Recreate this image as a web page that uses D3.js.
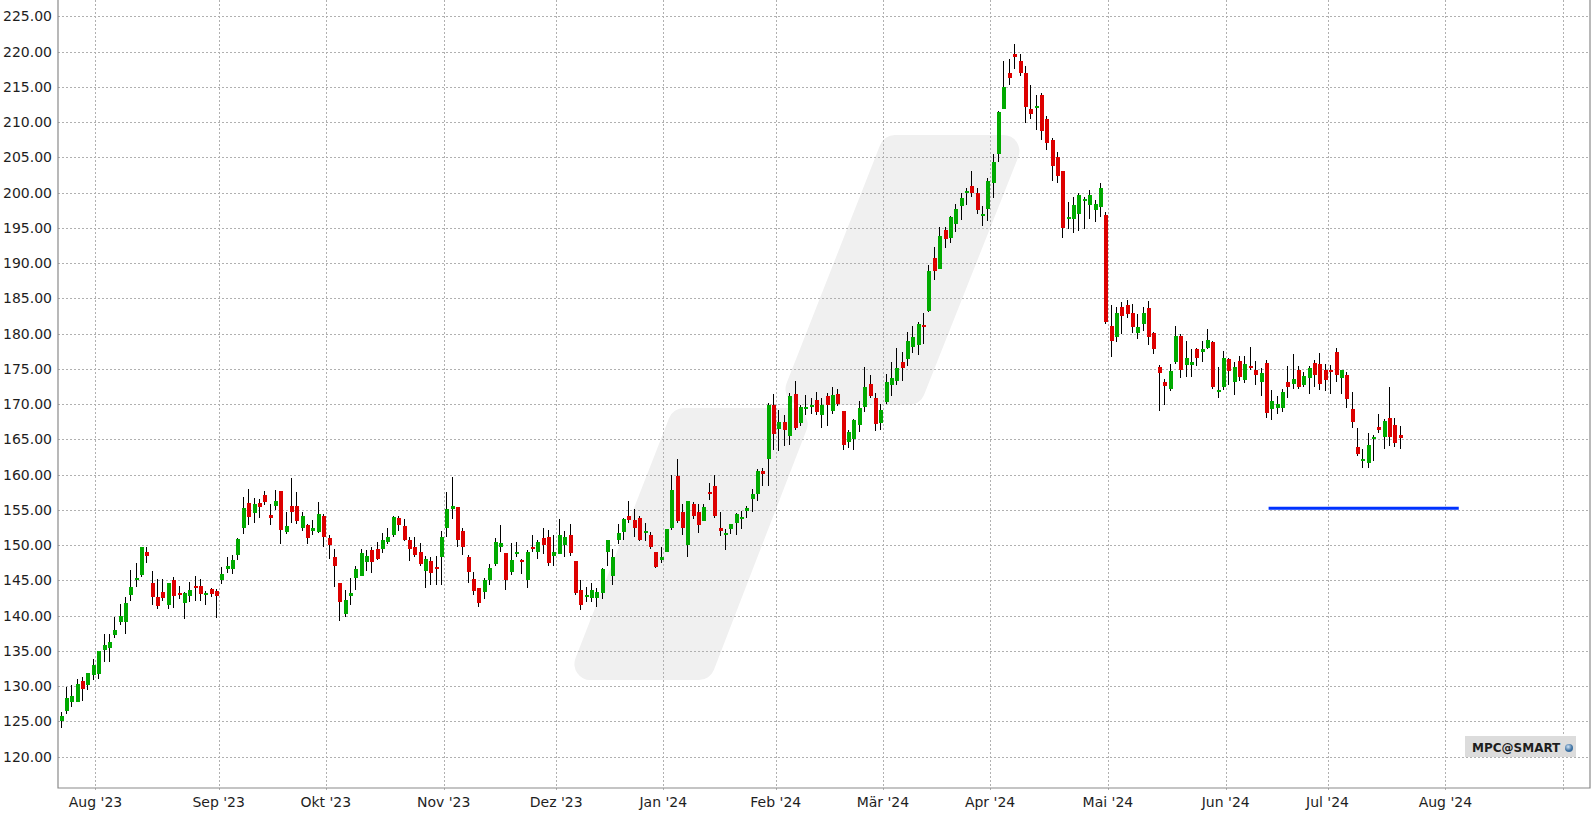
<!DOCTYPE html>
<html><head><meta charset="utf-8">
<script src="https://cdn.jsdelivr.net/npm/d3@7"></script>
<style>body{margin:0;background:#fff;} svg{display:block;font-family:"DejaVu Sans",sans-serif;}</style>
</head><body><svg id="c" width="1596" height="816"></svg>
<script>
// ---- data (daily candles, 21 Jul 2023 .. 19 Jul 2024) ----
const opens = [125.0,126.5,127.8,127.8,130.7,130.2,131.6,131.7,135.1,135.4,137.3,139.1,139.1,142.9,145.0,145.8,149.0,144.6,142.6,143.4,141.5,145.1,143.2,141.8,142.8,144.2,144.2,142.9,143.8,143.5,
145.1,146.6,146.6,148.6,152.4,156.0,154.6,156.0,157.1,154.3,155.5,157.7,151.9,155.6,155.6,152.5,152.8,152.0,151.8,154.1,
151.0,148.3,144.7,140.3,142.8,145.4,145.6,147.6,149.3,149.4,149.4,150.4,151.4,153.8,152.7,150.7,149.7,149.1,146.4,147.7,146.9,148.3,
152.4,155.1,155.4,152.0,148.3,145.2,143.9,143.3,145.0,147.3,149.7,148.9,146.2,148.7,147.9,145.0,149.7,149.0,151.0,151.2,148.4,
148.7,150.0,151.4,147.7,143.6,142.6,142.5,142.5,143.2,149.0,145.6,150.8,151.8,154.2,153.5,153.8,151.7,151.4,149.0,147.9,
149.0,152.4,159.8,154.7,150.0,155.9,154.7,153.4,157.6,158.4,152.4,151.4,152.3,153.2,153.7,154.9,156.6,157.2,160.5,162.2,169.9,
166.5,167.5,165.5,171.5,167.3,169.3,169.6,170.6,168.5,171.2,169.0,171.5,169.0,164.6,165.1,167.1,169.6,172.9,170.8,167.3,
170.3,172.7,173.3,176.0,176.4,178.1,178.4,181.2,183.2,190.7,189.2,194.7,193.6,195.6,198.1,199.9,201.0,200.0,196.7,197.7,
201.3,205.5,211.8,217.0,219.6,218.6,217.0,211.8,212.1,213.9,210.5,207.4,205.0,203.1,196.2,196.3,196.9,198.9,198.2,197.6,198.0,196.8,
181.1,179.5,183.8,184.1,182.9,180.1,181.4,183.6,180.1,175.3,173.1,172.1,176.0,179.7,175.5,175.5,177.8,177.4,178.0,178.8,171.7,172.4,
176.4,173.1,176.1,173.4,175.4,174.9,173.2,175.8,169.3,169.4,169.4,173.2,172.8,174.8,172.7,173.7,175.8,175.7,174.9,
174.9,177.4,173.7,174.1,169.3,163.9,161.9,161.6,165.2,166.7,165.4,168.0,167.0,165.6];
const highs = [126.3,129.9,130.2,131.0,131.3,131.9,133.9,135.0,137.4,137.4,139.8,141.7,142.6,146.5,147.5,149.7,149.7,146.3,145.2,145.2,144.6,145.5,144.2,143.4,144.8,145.6,145.2,143.5,143.9,143.8,
146.9,148.3,148.6,151.0,156.8,158.0,156.7,156.5,157.7,155.8,157.8,157.7,154.7,159.5,157.6,154.7,153.0,153.5,156.1,154.4,
151.5,149.4,144.7,143.6,145.4,147.0,149.4,149.3,149.8,150.4,151.7,152.4,154.2,154.2,153.7,151.2,151.2,150.3,148.4,148.3,148.4,152.0,
157.6,159.6,155.4,152.5,148.6,146.2,143.9,145.3,147.3,151.0,152.8,148.9,150.3,150.5,148.1,149.3,151.4,150.8,152.5,152.2,151.5,
153.7,152.0,153.0,147.7,145.0,144.0,144.7,143.9,146.7,150.8,149.4,153.0,153.8,156.2,155.1,154.1,153.1,151.8,149.0,149.7,
152.3,160.0,162.2,155.9,156.2,156.1,155.8,155.9,158.8,159.9,154.7,152.3,153.0,154.6,154.9,155.6,157.9,160.8,161.0,170.1,171.4,
169.2,168.4,171.6,173.3,169.9,171.3,170.8,171.7,170.9,171.6,172.4,172.2,169.0,166.4,167.9,170.5,175.3,174.1,171.6,170.0,
174.3,176.0,178.0,177.4,180.2,181.1,181.7,182.9,189.7,192.3,195.1,195.1,196.7,198.4,199.9,200.6,203.0,200.7,198.1,202.1,
205.5,211.5,218.6,218.9,221.1,219.7,218.0,215.3,213.9,214.1,210.8,207.7,205.7,203.1,198.6,199.4,200.0,199.4,200.4,198.9,201.3,197.3,
184.1,183.8,184.5,184.8,184.2,182.8,183.8,184.6,180.2,175.5,173.6,175.7,181.1,179.9,179.0,177.8,178.0,179.0,180.7,179.0,175.3,177.5,
176.5,176.0,176.8,176.8,178.1,176.1,175.1,176.2,172.0,171.1,172.1,175.4,177.1,175.4,174.5,175.4,176.2,177.2,175.7,
175.5,177.9,174.9,174.5,171.7,166.6,163.7,165.9,165.6,168.6,167.9,172.4,168.1,166.9];
const lows = [124.0,126.1,127.1,127.7,127.9,129.5,130.9,131.0,133.4,133.4,136.8,138.7,137.4,142.1,144.1,145.5,147.4,141.5,140.9,142.1,140.9,141.1,142.4,139.5,141.9,142.1,142.1,141.5,142.6,139.7,
144.5,146.0,145.9,147.9,151.6,152.9,153.1,153.8,155.7,152.9,155.0,150.2,151.6,153.1,153.0,152.0,150.1,151.4,151.7,149.8,
148.1,144.0,139.3,139.8,141.5,143.6,145.6,146.3,146.0,147.9,148.9,150.1,151.1,152.0,150.6,147.7,148.3,147.0,143.9,144.3,144.3,144.3,
151.1,153.7,149.7,148.6,144.7,142.9,141.2,142.3,144.3,147.0,149.1,143.6,145.7,148.3,145.9,143.9,149.1,148.1,148.7,147.0,147.0,
148.7,148.3,148.4,142.9,140.8,141.9,141.9,141.2,142.3,147.1,144.3,150.1,150.8,153.2,151.1,150.6,150.6,149.4,146.7,147.4,
149.0,152.1,153.1,151.4,148.3,153.7,151.7,153.4,156.4,153.8,151.3,149.3,151.6,151.4,152.3,153.9,154.7,156.2,158.4,158.4,163.5,
163.4,164.1,164.2,166.4,166.9,168.5,168.6,168.5,166.6,166.9,168.6,169.8,163.5,163.8,163.5,166.1,168.9,170.8,166.2,166.4,
170.0,171.2,172.7,173.3,175.4,177.3,177.0,178.5,183.1,187.6,189.2,192.1,192.9,194.4,196.1,198.2,199.4,197.0,195.2,195.9,
199.3,204.4,211.8,215.3,217.5,216.5,209.9,210.5,208.9,207.5,206.1,201.6,201.3,193.6,194.9,194.2,194.6,194.9,196.3,195.8,196.5,181.3,
176.7,178.8,179.9,182.2,180.1,179.2,180.4,178.4,177.1,169.0,169.9,171.9,175.7,173.7,173.8,173.8,175.4,176.0,177.8,172.1,170.9,172.0,
172.7,171.3,173.3,173.0,174.8,172.7,171.1,168.0,167.7,168.6,168.9,170.8,172.2,172.1,172.4,171.4,172.5,172.0,171.8,
171.5,173.2,171.5,169.4,166.6,162.6,161.0,161.0,161.9,165.9,163.6,164.0,163.9,163.7];
const closes = [125.8,128.3,128.6,130.3,129.6,131.9,133.0,135.0,135.8,136.3,138.0,140.0,141.8,144.1,145.3,149.7,148.5,142.6,141.4,142.5,144.6,142.8,142.9,143.2,143.6,143.9,143.1,143.2,143.1,142.8,
145.9,147.0,147.9,150.9,155.3,154.0,155.8,155.4,156.1,153.8,156.3,152.1,152.7,154.7,153.4,154.1,151.0,152.4,154.4,151.2,
150.0,147.1,141.9,142.2,143.2,146.6,148.9,148.4,147.6,148.1,150.7,151.2,154.0,152.8,150.8,149.4,148.6,147.3,148.0,146.0,146.6,151.2,
155.1,155.6,150.7,149.8,146.2,143.5,141.8,145.0,146.7,150.5,150.3,145.0,147.9,149.0,147.6,149.1,149.4,150.5,150.0,147.4,149.1,
151.4,151.2,148.9,143.2,141.5,143.0,143.7,143.3,146.6,150.8,148.3,151.7,153.7,153.5,152.5,150.8,152.0,149.8,146.9,148.3,
152.3,157.8,153.4,152.4,156.2,154.2,152.8,155.4,157.3,154.1,152.0,151.7,153.0,154.4,154.0,155.2,157.3,160.5,160.1,169.9,165.7,
167.5,166.4,171.2,166.6,169.6,169.6,169.9,168.9,169.9,169.9,171.3,170.0,164.2,166.1,167.8,169.5,172.4,171.2,167.2,169.2,
173.2,173.7,175.1,175.1,179.0,179.5,181.4,181.0,188.9,188.9,193.8,193.4,196.6,197.7,199.3,200.2,199.9,197.5,197.0,201.6,
204.4,211.4,215.0,216.3,219.2,217.0,212.2,211.2,212.3,208.8,207.1,203.8,202.4,195.0,196.5,198.3,199.7,199.1,199.6,198.4,200.6,181.7,
179.0,182.9,182.5,182.8,180.9,180.9,182.9,179.5,177.8,174.4,172.6,174.7,179.7,174.8,176.5,176.0,176.5,177.8,179.1,172.4,172.0,176.5,
174.7,175.3,173.9,175.7,175.1,174.2,174.4,168.7,170.4,170.0,171.7,172.4,173.5,172.5,174.0,175.1,174.2,172.8,173.4,
174.7,174.1,174.9,170.7,167.4,162.9,162.2,164.2,165.4,166.4,167.6,165.4,164.5,165.2];

const monthLabels = ["Aug '23","Sep '23","Okt '23","Nov '23","Dez '23","Jan '24","Feb '24","Mär '24","Apr '24","Mai '24","Jun '24","Jul '24","Aug '24",""];
const monthStarts = [7,30,50,72,93,113,134,154,174,196,218,237,259,281]; // trading-day index of month start
const yTicks = d3.range(120, 225.001, 5);
const levelValue = 155.25, levelFrom = 226, levelTo = 261.5;
const symbolLabel = "MPC@SMART";

// ---- layout ----
const plot = {l:58, r:1590, t:0, b:788};
const svg = d3.select("#c");
const x = d3.scaleLinear().domain([0, 286]).range([plot.l, plot.r]);
const y = d3.scaleLinear().domain([120, 225]).range([756.7, 16.3]);

// watermark logo (two slanted rounded bars)
function roundedPoly(pts, r){
  const p = d3.path(), n = pts.length;
  const a = pts[n-1], b = pts[0];
  p.moveTo((a[0]+b[0])/2, (a[1]+b[1])/2);
  for (let i=0;i<n;i++){ const p1=pts[i], p2=pts[(i+1)%n]; p.arcTo(p1[0],p1[1],p2[0],p2[1],r); }
  p.closePath(); return p.toString();
}
const wm = svg.append("g").attr("fill","#f0f0f0");
wm.append("path").attr("d", roundedPoly([[884,135],[1027,135],[920,405],[778,405]], 16));
wm.append("path").attr("d", roundedPoly([[673,408],[815,408],[710,680],[567,680]], 16));

// grid
const grid = svg.append("g").attr("stroke","#b0b0b0").attr("stroke-width",1).attr("stroke-dasharray","2,2").attr("shape-rendering","crispEdges");
grid.selectAll(".h").data(yTicks).join("line")
  .attr("x1",plot.l).attr("x2",plot.r).attr("y1",d=>Math.round(y(d))+0.5).attr("y2",d=>Math.round(y(d))+0.5);
grid.selectAll(".v").data(monthStarts).join("line")
  .attr("y1",plot.t).attr("y2",plot.b+4).attr("x1",d=>Math.round(x(d))+0.5).attr("x2",d=>Math.round(x(d))+0.5);

// frame
svg.append("path").attr("fill","none").attr("stroke","#8a8a8a").attr("stroke-width",1.2)
  .attr("d",`M${plot.l},${plot.t}V${plot.b}H${plot.r}V${plot.t}`);

// y labels
svg.append("g").selectAll("text").data(yTicks).join("text")
  .attr("x",52).attr("y",d=>y(d)).attr("dy","0.36em").attr("text-anchor","end")
  .attr("font-size",14).attr("fill","#1e1e1e").text(d=>d3.format(".2f")(d));
// x labels
svg.append("g").selectAll("text").data(monthStarts).join("text")
  .attr("x",d=>x(d)).attr("y",807).attr("text-anchor","middle")
  .attr("font-size",14).attr("fill","#1e1e1e").text((d,i)=>monthLabels[i]);

// candles
const idx = d3.range(opens.length);
const cg = svg.append("g").attr("shape-rendering","crispEdges");
cg.selectAll("line").data(idx).join("line")
  .attr("x1",i=>Math.round(x(i+0.5))+0.5).attr("x2",i=>Math.round(x(i+0.5))+0.5)
  .attr("y1",i=>y(highs[i])).attr("y2",i=>y(lows[i])).attr("stroke","#000").attr("stroke-width",1);
cg.selectAll("rect").data(idx).join("rect")
  .attr("x",i=>Math.round(x(i+0.5))-1.5).attr("width",4)
  .attr("y",i=>Math.min(y(opens[i]),y(closes[i])))
  .attr("height",i=>Math.max(2,Math.abs(y(opens[i])-y(closes[i]))))
  .attr("fill",i=>closes[i]>=opens[i]?"#00aa00":"#dd0000");

// horizontal level line
svg.append("line").attr("x1",x(levelFrom)).attr("x2",x(levelTo))
  .attr("y1",y(levelValue)).attr("y2",y(levelValue)).attr("stroke","#0033ff").attr("stroke-width",3);

// symbol label
const lg = svg.append("g");
lg.append("rect").attr("x",1465).attr("y",736).attr("width",111).attr("height",21).attr("fill","#dcdcdc");
lg.append("text").attr("x",1472).attr("y",752).attr("font-size",12).attr("font-weight","bold").attr("fill","#1e1e1e").text(symbolLabel);
const grad = svg.append("defs").append("radialGradient").attr("id","gl").attr("cx","40%").attr("cy","35%");
grad.append("stop").attr("offset","0%").attr("stop-color","#cfe3f5");
grad.append("stop").attr("offset","100%").attr("stop-color","#3b6fa0");
lg.append("circle").attr("cx",1569).attr("cy",748).attr("r",4).attr("fill","url(#gl)");
</script></body></html>
